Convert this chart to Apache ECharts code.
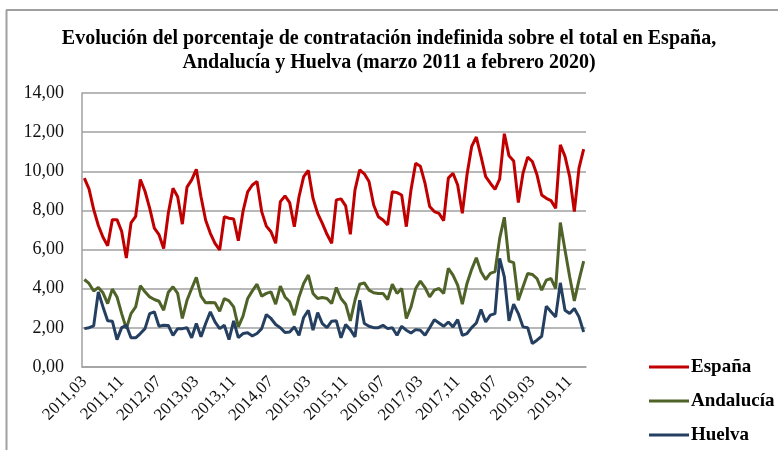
<!DOCTYPE html>
<html><head><meta charset="utf-8">
<script src="https://cdn.jsdelivr.net/npm/echarts@6/dist/echarts.min.js"></script>
<style>html,body{margin:0;padding:0;background:#fff}#c{width:778px;height:450px}</style>
</head><body><div id="c"></div>
<script>
var titleText = "Evolución del porcentaje de contratación indefinida sobre el total en España,\nAndalucía y Huelva (marzo 2011 a febrero 2020)";
var seriesNames = ["España", "Andalucía", "Huelva"];
var categories = [];
(function(){ var y=2011, m=3; for (var k=0;k<108;k++){ categories.push(y+","+(m<10?"0"+m:m)); m++; if(m>12){m=1;y++;} } })();

var espana = [9.65,9.1,8.05,7.23,6.63,6.2,7.53,7.53,6.93,5.57,7.36,7.7,9.58,8.98,8.12,7.1,6.76,6.05,7.87,9.13,8.7,7.3,9.19,9.56,10.1,8.7,7.5,6.83,6.32,5.98,7.68,7.6,7.56,6.45,7.95,8.95,9.3,9.48,7.94,7.2,6.91,6.32,8.45,8.74,8.4,7.17,8.7,9.73,10.04,8.62,7.85,7.34,6.78,6.32,8.54,8.59,8.23,6.78,9.05,10.07,9.87,9.48,8.28,7.68,7.51,7.26,8.96,8.91,8.79,7.17,9.05,10.41,10.26,9.39,8.2,7.94,7.85,7.48,9.65,9.9,9.3,7.85,9.82,11.27,11.75,10.76,9.73,9.39,9.08,9.6,11.92,10.79,10.53,8.4,9.9,10.72,10.5,9.82,8.79,8.62,8.5,8.11,11.35,10.76,9.73,7.94,10.16,11.13];
var andalucia = [4.47,4.27,3.88,4.06,3.79,3.24,3.98,3.58,2.73,1.96,2.73,3.07,4.15,3.84,3.58,3.45,3.36,2.9,3.82,4.1,3.76,2.48,3.41,4.01,4.58,3.62,3.28,3.3,3.28,2.85,3.5,3.38,3.07,2.05,2.6,3.5,3.89,4.23,3.62,3.76,3.84,3.21,4.13,3.58,3.33,2.65,3.58,4.27,4.7,3.76,3.5,3.55,3.5,3.24,4.06,3.5,3.21,2.36,3.41,4.23,4.3,3.93,3.79,3.76,3.76,3.45,4.23,3.76,4.01,2.48,3.07,4.01,4.39,4.06,3.58,3.93,4.01,3.76,5.04,4.7,4.18,3.21,4.27,4.99,5.58,4.87,4.47,4.78,4.87,6.57,7.65,5.41,5.33,3.41,4.1,4.78,4.73,4.52,3.93,4.44,4.52,4.01,7.38,5.98,4.61,3.38,4.44,5.41];
var huelva = [1.96,2.01,2.1,3.84,3.07,2.36,2.34,1.4,2.01,2.13,1.49,1.49,1.71,1.96,2.73,2.82,2.08,2.13,2.12,1.62,1.96,1.96,2.01,1.49,2.22,1.54,2.22,2.82,2.3,1.96,2.13,1.4,2.36,1.5,1.71,1.75,1.59,1.71,1.96,2.68,2.48,2.17,2.01,1.76,1.79,2.05,1.62,2.53,2.9,1.88,2.78,2.22,2.01,2.34,2.36,1.49,2.17,1.91,1.54,3.41,2.22,2.08,2.01,2.01,2.13,1.96,2.01,1.62,2.08,1.88,1.74,1.91,1.88,1.62,2.01,2.42,2.25,2.08,2.3,2.05,2.42,1.62,1.71,2.01,2.25,2.94,2.3,2.65,2.73,5.55,4.61,2.36,3.21,2.73,2.05,2.01,1.2,1.37,1.57,3.11,2.82,2.56,4.3,2.9,2.73,2.99,2.56,1.79];

var colors = ["#C00000", "#4F6228", "#243F60"];
var chart = echarts.init(document.getElementById('c'), null, {renderer:'canvas'});
var serif = "'Liberation Serif', serif";
function mk(name, data, color){
  return {name:name, type:'line', data:data, symbol:'none', smooth:false,
    lineStyle:{color:color, width:3}, itemStyle:{color:color}, animation:false};
}
chart.setOption({
  animation:false,
  title:{text:titleText, left:'center', top:22,
    textStyle:{fontFamily:serif, fontWeight:'bold', fontSize:20, color:'#000', lineHeight:24}},
  grid:{left:82, right:192, top:93, bottom:83},
  legend:{type:'plain', orient:'vertical', left:649, top:357, padding:0, itemGap:14, icon:'rect', itemWidth:40, itemHeight:3,
    data:seriesNames,
    textStyle:{fontFamily:serif, fontWeight:'bold', fontSize:19, color:'#000', lineHeight:20, padding:[0,0,0,-3]}},
  xAxis:{type:'category', data:categories, boundaryGap:true,
    axisLine:{show:true, lineStyle:{color:'#a0a0a0', width:1.5}},
    axisTick:{show:false},
    axisLabel:{interval:7, rotate:45, fontFamily:serif, fontSize:17, color:'#111', margin:12}},
  yAxis:{type:'value', min:0, max:14, interval:2,
    axisLine:{show:true, lineStyle:{color:'#a0a0a0', width:1.5}},
    axisTick:{show:false},
    splitLine:{lineStyle:{color:'#a0a0a0', width:1.5}},
    axisLabel:{fontFamily:serif, fontSize:18, color:'#111', margin:18,
      formatter:function(v){return v.toFixed(2).replace('.', ',');}}},
  graphic:[
    {type:'line', shape:{x1:6.5, y1:10, x2:6.5, y2:450}, style:{stroke:'#a0a0a0', lineWidth:2}},
    {type:'line', shape:{x1:6, y1:10, x2:778, y2:10}, style:{stroke:'#a0a0a0', lineWidth:2}}
  ],
  series:[mk(seriesNames[0], espana, colors[0]), mk(seriesNames[1], andalucia, colors[1]), mk(seriesNames[2], huelva, colors[2])]
});
</script></body></html>
